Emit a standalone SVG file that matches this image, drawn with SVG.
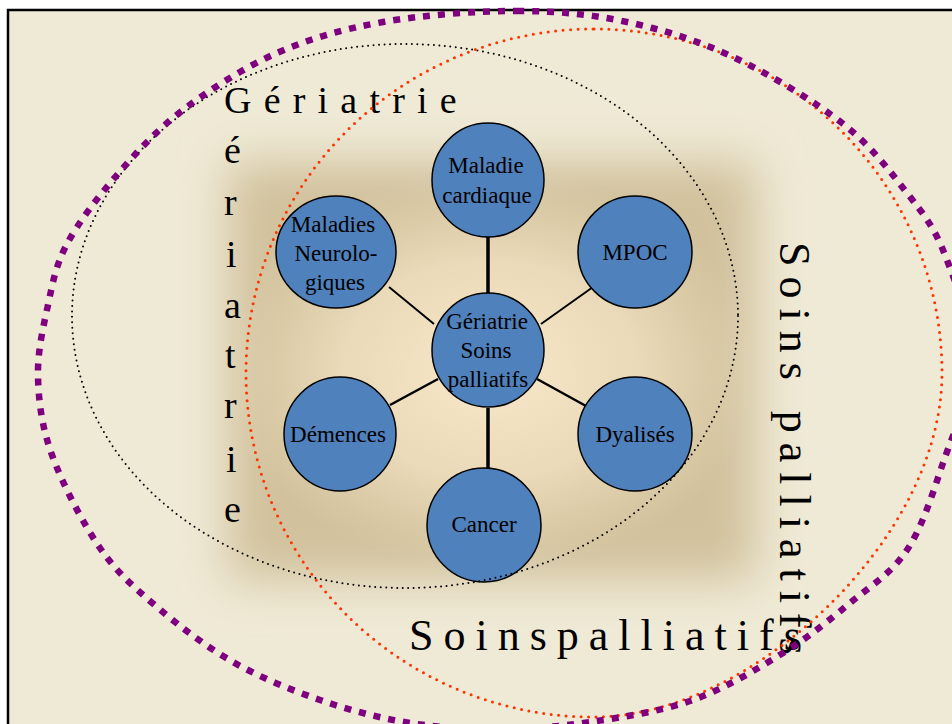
<svg xmlns="http://www.w3.org/2000/svg" width="952" height="724" viewBox="0 0 952 724">
<defs>
<filter id="soft" x="-30%" y="-30%" width="160%" height="160%"><feGaussianBlur stdDeviation="24"/></filter>
<radialGradient id="glow" cx="0.5" cy="0.5" r="0.5">
<stop offset="0" stop-color="#F8E9CB" stop-opacity="1"/>
<stop offset="0.55" stop-color="#F3E2C2" stop-opacity="0.75"/>
<stop offset="1" stop-color="#EADBB8" stop-opacity="0"/>
</radialGradient>
<style>
.node{fill:#4F81BD;stroke:#000;stroke-width:1.5}
.nt{font-family:"Liberation Serif","Times New Roman",serif;font-size:23px;fill:#000;text-anchor:middle}
.big{font-family:"Liberation Serif","Times New Roman",serif;fill:#000}
.conn{stroke:#000;fill:none}
</style>
</defs>
<rect x="8" y="10" width="962" height="740" fill="#EFEAD6" stroke="#000" stroke-width="2.5"/>
<g id="background-box">
<rect x="228" y="162" width="528" height="418" fill="#D1C19C" filter="url(#soft)"/>
<ellipse cx="490" cy="370" rx="270" ry="200" fill="url(#glow)"/>
</g>
<g id="labels">
<text class="big" font-size="38" letter-spacing="12.2" x="224" y="113">Gériatrie</text>
<text class="big" font-size="38" x="224 224 226 224 225 224 226 224" y="163 215 267 318 368 418 472 522">ériatrie</text>
<text class="big" font-size="44" letter-spacing="10" x="409" y="650">Soinspalliatifs</text>
<text class="big" font-size="44" letter-spacing="10" transform="translate(780,242) rotate(90)" x="0" y="0">Soins palliatifs</text>
</g>
<g id="connectors">
<line class="conn" x1="488" y1="237" x2="488" y2="293" stroke-width="3.5"/>
<line class="conn" x1="389" y1="287" x2="434" y2="324" stroke-width="2"/>
<line class="conn" x1="593" y1="287" x2="541" y2="324" stroke-width="2"/>
<line class="conn" x1="390" y1="405" x2="438" y2="379" stroke-width="2.5"/>
<line class="conn" x1="537" y1="379" x2="586" y2="406" stroke-width="2.5"/>
<line class="conn" x1="488" y1="408" x2="488" y2="468" stroke-width="3.5"/>
</g>
<g id="node-cardiaque">
<ellipse class="node" cx="488" cy="180" rx="56" ry="57"/>
<text class="nt" x="486" y="173">Maladie</text>
<text class="nt" x="487" y="203">cardiaque</text>
</g>
<g id="node-neuro">
<ellipse class="node" cx="336" cy="252" rx="60" ry="56"/>
<text class="nt" x="333" y="232">Maladies</text>
<text class="nt" x="336" y="261">Neurolo-</text>
<text class="nt" x="335" y="290">giques</text>
</g>
<g id="node-mpoc">
<ellipse class="node" cx="635" cy="252" rx="57" ry="56"/>
<text class="nt" x="635" y="260">MPOC</text>
</g>
<g id="node-centre">
<ellipse class="node" cx="488" cy="350" rx="56" ry="57"/>
<text class="nt" x="487" y="329">Gériatrie</text>
<text class="nt" x="486" y="358">Soins</text>
<text class="nt" x="488" y="387">palliatifs</text>
</g>
<g id="node-demences">
<ellipse class="node" cx="340" cy="434" rx="56" ry="57"/>
<text class="nt" x="338" y="442">Démences</text>
</g>
<g id="node-dyalises">
<ellipse class="node" cx="635" cy="434" rx="57" ry="57"/>
<text class="nt" x="635" y="442">Dyalisés</text>
</g>
<g id="node-cancer">
<ellipse class="node" cx="484" cy="525" rx="57" ry="57"/>
<text class="nt" x="484" y="532">Cancer</text>
</g>
<g id="sets">
<ellipse cx="405" cy="316" rx="333" ry="272" fill="none" stroke="#000" stroke-width="2" stroke-linecap="round" stroke-dasharray="0 5.5"/>
<path d="M594,29 A348,344 0 0 1 942,373 C942,540 750,717 594,717 A348,344 0 0 1 246,373 A348,344 0 0 1 594,29 Z" fill="none" stroke="#FF3300" stroke-width="3" stroke-linecap="round" stroke-dasharray="0 7.5"/>
<path d="M517,11 C557.7,11 591,14.3 627,22 C663,29.7 697.2,40.2 733,57 C768.8,73.8 813,100.3 842,123 C871,145.7 889.8,171 907,193 C924.2,215 934.2,227.2 945,255 C955.8,282.8 972.3,325.3 972,360 C971.7,394.7 953.8,431.3 943,463 C932.2,494.7 922.5,526.7 907,550 C891.5,573.3 870.7,585.8 850,603 C829.3,620.2 809.2,636.8 783,653 C756.8,669.2 725.2,688.5 693,700 C660.8,711.5 622.2,717.2 590,722 C557.8,726.8 530,728.8 500,729 C470,729.2 440,727.8 410,723 C380,718.2 349.5,710.2 320,700 C290.5,689.8 260.2,677.5 233,662 C205.8,646.5 179.2,626 157,607 C134.8,588 117.5,573.3 100,548 C82.5,522.7 62.3,483.5 52,455 C41.7,426.5 38.7,402 38,377 C37.3,352 43.2,327.2 48,305 C52.8,282.8 55.5,265.7 67,244 C78.5,222.3 97.7,197.3 117,175 C136.3,152.7 156.3,130.3 183,110 C209.7,89.7 243.7,67.7 277,53 C310.3,38.3 343,29 383,22 C423,15 476.3,11 517,11 Z" fill="none" stroke="#7F007F" stroke-width="6.5" stroke-dasharray="7 8"/>
</g>
</svg>
